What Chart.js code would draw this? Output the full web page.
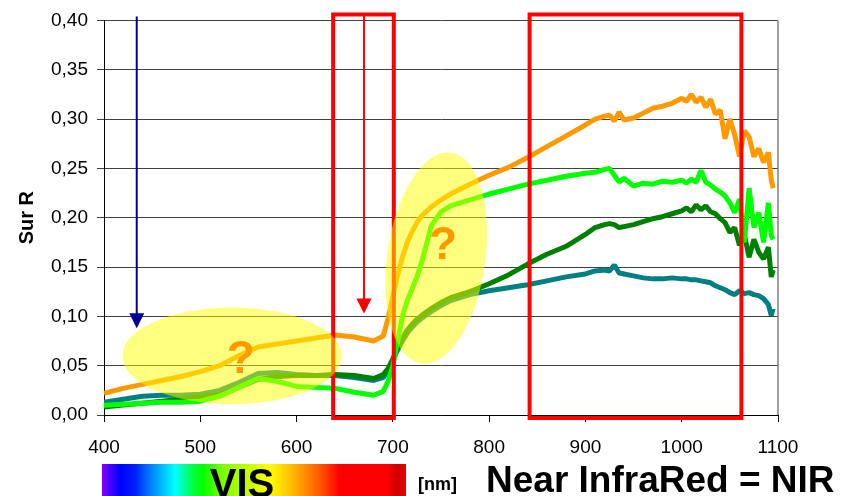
<!DOCTYPE html>
<html>
<head>
<meta charset="utf-8">
<script src="https://cdn.jsdelivr.net/npm/chart.js@4.4.0/dist/chart.umd.min.js"></script>
<style>
html, body { margin: 0; padding: 0; background: #fff; }
</style>
</head>
<body>
<canvas id="myChart" width="852" height="496"></canvas>
<script>
// wavelengths in nm, shared by all four curves
var wavelengths = [400, 420, 440, 460, 480, 500, 520, 540, 560, 580, 600, 620, 640, 660, 680, 690, 695, 700, 705, 710,
    715, 720, 725, 730, 740, 750, 760, 780, 800, 820, 840, 860, 880, 900, 910, 920, 925, 930, 935, 940,
    950, 960, 970, 980, 990, 1000, 1005, 1010, 1015, 1020, 1025, 1030, 1035, 1040, 1045, 1050, 1055, 1060, 1065, 1070,
    1075, 1080, 1085, 1090, 1093, 1095];

var orangeR = [0.022, 0.027, 0.031, 0.035, 0.039, 0.044, 0.050, 0.060, 0.069, 0.072, 0.075, 0.078, 0.081, 0.079, 0.075, 0.080, 0.098, 0.120, 0.142, 0.160,
    0.175, 0.186, 0.195, 0.202, 0.211, 0.218, 0.224, 0.234, 0.243, 0.251, 0.261, 0.272, 0.283, 0.294, 0.300, 0.303, 0.304, 0.298, 0.307, 0.299,
    0.301, 0.306, 0.311, 0.313, 0.316, 0.321, 0.318, 0.325, 0.317, 0.322, 0.312, 0.320, 0.305, 0.309, 0.280, 0.300, 0.284, 0.262, 0.288, 0.282,
    0.262, 0.270, 0.256, 0.266, 0.238, 0.230];

var limeR = [0.010, 0.011, 0.012, 0.013, 0.013, 0.014, 0.019, 0.028, 0.037, 0.034, 0.029, 0.028, 0.027, 0.023, 0.020, 0.024, 0.034, 0.050, 0.075, 0.100,
    0.116, 0.128, 0.140, 0.155, 0.192, 0.206, 0.212, 0.218, 0.224, 0.229, 0.234, 0.238, 0.242, 0.245, 0.246, 0.249, 0.250, 0.243, 0.236, 0.240,
    0.232, 0.235, 0.234, 0.237, 0.236, 0.238, 0.235, 0.239, 0.236, 0.248, 0.236, 0.233, 0.229, 0.226, 0.222, 0.215, 0.205, 0.219, 0.175, 0.230,
    0.190, 0.205, 0.175, 0.215, 0.182, 0.178];

var darkGreenR = [0.008, 0.010, 0.012, 0.014, 0.016, 0.018, 0.021, 0.028, 0.036, 0.039, 0.040, 0.040, 0.041, 0.040, 0.037, 0.041, 0.047, 0.057, 0.068, 0.078,
    0.086, 0.092, 0.097, 0.101, 0.108, 0.114, 0.119, 0.125, 0.133, 0.142, 0.153, 0.163, 0.171, 0.183, 0.190, 0.193, 0.194, 0.193, 0.190, 0.191,
    0.193, 0.196, 0.199, 0.201, 0.204, 0.207, 0.210, 0.206, 0.213, 0.208, 0.212, 0.206, 0.204, 0.199, 0.195, 0.185, 0.190, 0.172, 0.183, 0.160,
    0.178, 0.165, 0.158, 0.170, 0.140, 0.147];

var tealR = [0.013, 0.016, 0.019, 0.020, 0.020, 0.021, 0.025, 0.033, 0.042, 0.043, 0.041, 0.040, 0.040, 0.038, 0.035, 0.038, 0.045, 0.056, 0.066, 0.075,
    0.083, 0.089, 0.094, 0.098, 0.105, 0.111, 0.116, 0.122, 0.126, 0.129, 0.132, 0.136, 0.140, 0.143, 0.146, 0.147, 0.146, 0.152, 0.144, 0.143,
    0.141, 0.139, 0.138, 0.138, 0.139, 0.138, 0.138, 0.137, 0.137, 0.136, 0.135, 0.134, 0.131, 0.129, 0.127, 0.124, 0.122, 0.126, 0.123, 0.124,
    0.122, 0.121, 0.118, 0.112, 0.101, 0.108];

var xTicks = [400, 500, 600, 700, 800, 900, 1000, 1100];
var yTickLabels = ['0,00', '0,05', '0,10', '0,15', '0,20', '0,25', '0,30', '0,35', '0,40'];

// annotations, in data units (nm, R)
var redBoxes = [[638, 701], [842, 1062]];
var arrows = [
    { x: 434, from: 0.404, to: 0.088, color: '#000099' },
    { x: 670, from: 0.405, to: 0.103, color: '#ff0000' }
];
var ellipses = [
    { x: 533, y: 0.060, rx: 114, ry: 0.049, rot: 0 },
    { x: 745, y: 0.159, rx: 51, ry: 0.108, rot: 0.14 }
];
var questionMarks = [{ x: 542, y: 0.043 }, { x: 752, y: 0.158 }];

var FONT = "Arial, 'Liberation Sans', sans-serif";

function toPoints(ys) {
    return wavelengths.map(function (x, i) {
        return { x: x, y: ys[i] };
    });
}

var extras = {
    id: 'extras',
    afterDatasetsDraw: function (chart) {
        var ctx = chart.ctx;
        var xs = chart.scales.x, ys = chart.scales.y;
        var area = chart.chartArea;
        ctx.save();

        // plot frame right side
        ctx.strokeStyle = '#808080';
        ctx.lineWidth = 1.5;
        ctx.beginPath();
        ctx.moveTo(area.right, area.top);
        ctx.lineTo(area.right, area.bottom);
        ctx.stroke();

        // red boxes
        ctx.strokeStyle = '#ff0000';
        ctx.lineWidth = 4;
        redBoxes.forEach(function (b) {
            var l = xs.getPixelForValue(b[0]), r = xs.getPixelForValue(b[1]);
            var t = ys.getPixelForValue(0.406), bt = ys.getPixelForValue(-0.003);
            ctx.strokeRect(l, t, r - l, bt - t);
        });

        // arrows
        arrows.forEach(function (a) {
            var px = xs.getPixelForValue(a.x);
            var top = ys.getPixelForValue(a.from), tip = ys.getPixelForValue(a.to);
            ctx.strokeStyle = a.color;
            ctx.fillStyle = a.color;
            ctx.lineWidth = 2;
            ctx.beginPath();
            ctx.moveTo(px, top);
            ctx.lineTo(px, tip - 12);
            ctx.stroke();
            ctx.beginPath();
            ctx.moveTo(px - 7.5, tip - 15);
            ctx.lineTo(px + 7.5, tip - 15);
            ctx.lineTo(px, tip);
            ctx.closePath();
            ctx.fill();
        });

        // yellow ellipses
        ctx.fillStyle = 'rgba(255,255,0,0.5)';
        ellipses.forEach(function (e) {
            var cx = xs.getPixelForValue(e.x), cy = ys.getPixelForValue(e.y);
            var rx = xs.getPixelForValue(e.x + e.rx) - cx;
            var ry = ys.getPixelForValue(e.y - e.ry) - cy;
            ctx.beginPath();
            ctx.ellipse(cx, cy, rx, ry, e.rot, 0, Math.PI * 2);
            ctx.fill();
        });

        // question marks
        ctx.fillStyle = '#ff9900';
        ctx.font = 'bold 46px ' + FONT;
        ctx.textAlign = 'center';
        ctx.textBaseline = 'alphabetic';
        questionMarks.forEach(function (q) {
            ctx.fillText('?', xs.getPixelForValue(q.x), ys.getPixelForValue(q.y));
        });
        ctx.restore();
    },
    afterDraw: function (chart) {
        var ctx = chart.ctx;
        ctx.save();
        // visible spectrum strip
        var g = ctx.createLinearGradient(102, 0, 406, 0);
        g.addColorStop(0.00, '#8000ff');
        g.addColorStop(0.06, '#0000ff');
        g.addColorStop(0.11, '#0020ff');
        g.addColorStop(0.16, '#0080ff');
        g.addColorStop(0.24, '#00ffff');
        g.addColorStop(0.30, '#00ff40');
        g.addColorStop(0.33, '#00ff00');
        g.addColorStop(0.40, '#80ff00');
        g.addColorStop(0.55, '#ffff00');
        g.addColorStop(0.62, '#ffc000');
        g.addColorStop(0.71, '#ff6000');
        g.addColorStop(0.78, '#ff0000');
        g.addColorStop(0.94, '#ff0000');
        g.addColorStop(0.97, '#cc0000');
        g.addColorStop(1.00, '#ee0000');
        ctx.fillStyle = g;
        ctx.fillRect(102, 464, 304, 32);

        ctx.fillStyle = '#000';
        ctx.textBaseline = 'alphabetic';
        ctx.textAlign = 'center';
        ctx.font = 'bold 40px ' + FONT;
        ctx.fillText('VIS', 242, 497);
        ctx.textAlign = 'left';
        ctx.font = 'bold 18px ' + FONT;
        ctx.fillText('[nm]', 418, 490);
        ctx.font = 'bold 37px ' + FONT;
        ctx.fillText('Near InfraRed = NIR', 486, 492);
        ctx.restore();
    }
};

function BuildChart() {
    var ctx = document.getElementById('myChart').getContext('2d');
    var series = [
        { label: 'orange', data: orangeR, color: '#ff9900' },
        { label: 'lime', data: limeR, color: '#00ff00' },
        { label: 'darkgreen', data: darkGreenR, color: '#008000' },
        { label: 'teal', data: tealR, color: '#008080' }
    ];
    return new Chart(ctx, {
        type: 'scatter',
        data: {
            datasets: series.map(function (s) {
                return {
                    label: s.label,
                    data: toPoints(s.data),
                    showLine: true,
                    borderColor: s.color,
                    backgroundColor: s.color,
                    borderWidth: 5,
                    borderJoinStyle: 'bevel',
                    pointRadius: 0,
                    tension: 0
                };
            })
        },
        options: {
            responsive: false,
            animation: false,
            layout: { padding: { top: 15, right: 74, left: 0, bottom: 0 } },
            plugins: { legend: { display: false }, tooltip: { enabled: false } },
            scales: {
                x: {
                    type: 'linear',
                    min: 400,
                    max: 1100,
                    afterFit: function (scale) { scale.height = 81; },
                    afterBuildTicks: function (scale) {
                        scale.ticks = xTicks.map(function (v) { return { value: v }; });
                    },
                    ticks: {
                        color: '#000',
                        font: { family: FONT, size: 19 },
                        padding: 14,
                        maxRotation: 0,
                        callback: function (v) { return String(v); }
                    },
                    grid: { drawOnChartArea: false, color: '#000', tickLength: 7 },
                    border: { color: '#000', width: 1 }
                },
                y: {
                    min: 0,
                    max: 0.4,
                    afterFit: function (scale) { scale.width = 104; },
                    ticks: {
                        stepSize: 0.05,
                        color: '#000',
                        font: { family: FONT, size: 19 },
                        padding: 9,
                        callback: function (v, i) { return yTickLabels[i]; }
                    },
                    grid: { color: '#404040', tickLength: 7 },
                    border: { color: '#000', width: 1 },
                    title: {
                        display: true,
                        text: 'Sur R',
                        color: '#000',
                        font: { family: FONT, size: 20, weight: 'bold' },
                        padding: { top: 15, bottom: 0 }
                    }
                }
            }
        },
        plugins: [extras]
    });
}

window.onload = function () {
    BuildChart();
};
</script>
</body>
</html>
